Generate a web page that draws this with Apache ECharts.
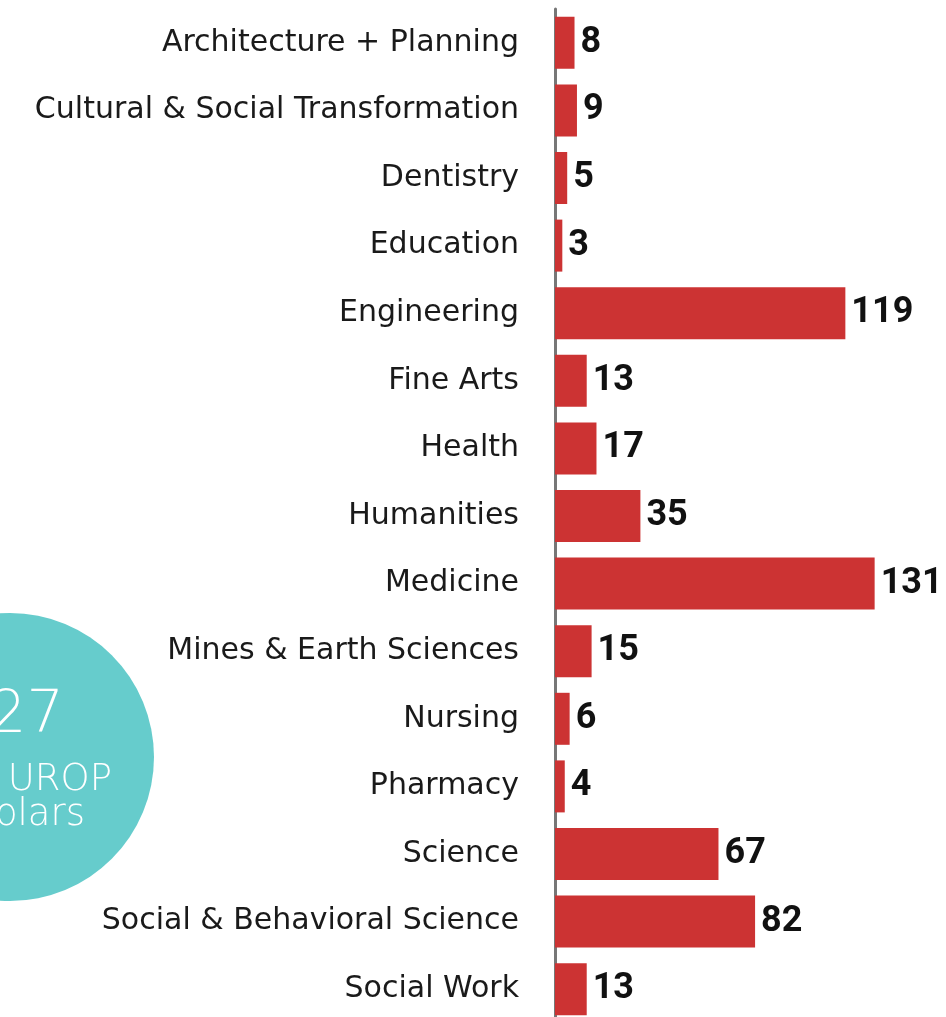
<!DOCTYPE html>
<html>
<head>
<meta charset="utf-8">
<script src="https://cdn.jsdelivr.net/npm/echarts@6/dist/echarts.min.js"></script>
<style>
  html, body { margin: 0; padding: 0; background: #fff; }
  #chart { width: 946px; height: 1017px; }
</style>
</head>
<body>
<div id="chart"></div>
<script>
// 学院分类
const colleges = [
  'Architecture + Planning',
  'Cultural & Social Transformation',
  'Dentistry',
  'Education',
  'Engineering',
  'Fine Arts',
  'Health',
  'Humanities',
  'Medicine',
  'Mines & Earth Sciences',
  'Nursing',
  'Pharmacy',
  'Science',
  'Social & Behavioral Science',
  'Social Work'
];
// 每个学院的人数
const scholars = [8, 9, 5, 3, 119, 13, 17, 35, 131, 15, 6, 4, 67, 82, 13];
// 圆形标注
const badgeLines = ['527', 'UROP', 'Scholars'];

const chart = echarts.init(document.getElementById('chart'));

chart.setOption({
  animation: false,
  grid: { left: 555, width: 366, top: 9, height: 1014, containLabel: false, outerBoundsMode: 'none' },
  xAxis: {
    type: 'value',
    min: 0,
    max: 150,
    show: false
  },
  yAxis: {
    type: 'category',
    data: colleges,
    inverse: true,
    axisLine: { show: true, lineStyle: { color: '#777', width: 3 } },
    axisTick: { show: false },
    axisLabel: {
      color: '#1a1a1a',
      fontSize: 30,
      fontFamily: 'DejaVu Sans',
      margin: 36,
      padding: [7, 0, 0, 0]
    }
  },
  series: [
    {
      type: 'bar',
      data: scholars,
      barWidth: 52,
      itemStyle: { color: '#cc3333' },
      label: {
        show: true,
        position: 'right',
        distance: 6,
        color: '#111',
        fontSize: 36,
        fontWeight: 'bold',
        fontFamily: 'Roboto',
        padding: [7, 0, 0, 0]
      }
    }
  ],
  graphic: [
    {
      type: 'circle',
      shape: { cx: 10, cy: 757, r: 144 },
      style: { fill: '#66cccc' },
      z: 0
    },
    {
      type: 'text',
      style: { text: badgeLines[0], x: 64, y: 717, align: 'right', verticalAlign: 'middle',
        fill: '#fff', fontSize: 59, fontFamily: 'DejaVu Sans', fontWeight: 200 }
    },
    {
      type: 'text',
      style: { text: badgeLines[1], x: 112, y: 780, align: 'right', verticalAlign: 'middle',
        fill: '#fff', fontSize: 37, fontFamily: 'DejaVu Sans', fontWeight: 200 }
    },
    {
      type: 'text',
      style: { text: badgeLines[2], x: 85, y: 815, align: 'right', verticalAlign: 'middle',
        fill: '#fff', fontSize: 37, fontFamily: 'DejaVu Sans', fontWeight: 200 }
    }
  ]
});
</script>
</body>
</html>
